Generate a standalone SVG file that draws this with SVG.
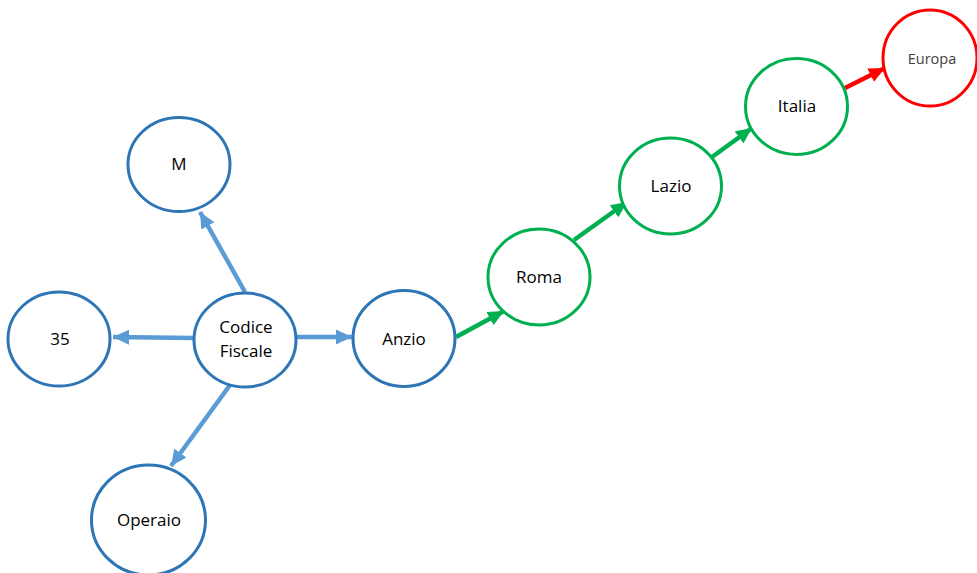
<svg xmlns="http://www.w3.org/2000/svg" width="977" height="573" viewBox="0 0 977 573">
  <defs>
    <marker id="ahBlue" markerUnits="userSpaceOnUse" markerWidth="17" markerHeight="15" refX="16" refY="7.5" orient="auto">
      <path d="M0,0 L16,7.5 L0,15 z" fill="#5b9bd5"/>
    </marker>
    <marker id="ahGreen" markerUnits="userSpaceOnUse" markerWidth="17" markerHeight="15" refX="16" refY="7.5" orient="auto">
      <path d="M0,0 L16,7.5 L0,15 z" fill="#00b050"/>
    </marker>
    <marker id="ahRed" markerUnits="userSpaceOnUse" markerWidth="17" markerHeight="15" refX="16" refY="7.5" orient="auto">
      <path d="M0,0 L16,7.5 L0,15 z" fill="#ff0000"/>
    </marker>
  </defs>
  <style>
    .node { fill: #ffffff; stroke-width: 3; }
    .blue { stroke: #2e75b6; }
    .green { stroke: #00b050; }
    .red { stroke: #ff0000; }
    .label { font-family: "Open Sans", "Liberation Sans", sans-serif; font-size: 17px; fill: #000000; text-anchor: middle; }
    .small { font-size: 14.5px; fill: #404040; }
    .edge { fill: none; stroke-width: 4.5; }
    .eb { stroke: #5b9bd5; marker-end: url(#ahBlue); }
    .eg { stroke: #00b050; marker-end: url(#ahGreen); }
    .er { stroke: #ff0000; marker-end: url(#ahRed); }
  </style>
  <rect width="977" height="573" fill="#ffffff"/>

  <g id="connectors">
    <line class="edge eb" x1="245" y1="292" x2="200" y2="212"/>
    <line class="edge eb" x1="194" y1="338" x2="113" y2="337"/>
    <line class="edge eb" x1="296" y1="337" x2="352" y2="337"/>
    <line class="edge eb" x1="230" y1="385" x2="171" y2="466"/>
    <line class="edge eg" x1="456" y1="337" x2="504" y2="311"/>
    <line class="edge eg" x1="574" y1="240" x2="627" y2="202"/>
    <line class="edge eg" x1="712" y1="157" x2="752" y2="128"/>
    <line class="edge er" x1="845" y1="88" x2="885" y2="68"/>
  </g>

  <g id="node-m">
    <ellipse class="node blue" cx="179" cy="164.5" rx="51" ry="47"/>
    <text class="label" x="179" y="170">M</text>
  </g>
  <g id="node-35">
    <ellipse class="node blue" cx="59" cy="339" rx="51" ry="47"/>
    <text class="label" x="60" y="345">35</text>
  </g>
  <g id="node-codice-fiscale">
    <ellipse class="node blue" cx="245" cy="340" rx="51" ry="47"/>
    <text class="label" x="246" y="333">Codice</text>
    <text class="label" x="246" y="357">Fiscale</text>
  </g>
  <g id="node-operaio">
    <ellipse class="node blue" cx="148.5" cy="520" rx="57" ry="55"/>
    <text class="label" x="149" y="526">Operaio</text>
  </g>
  <g id="node-anzio">
    <ellipse class="node blue" cx="404" cy="338.5" rx="51" ry="48"/>
    <text class="label" x="404" y="345">Anzio</text>
  </g>
  <g id="node-roma">
    <ellipse class="node green" cx="539" cy="277" rx="51" ry="48"/>
    <text class="label" x="539" y="283">Roma</text>
  </g>
  <g id="node-lazio">
    <ellipse class="node green" cx="670.5" cy="186" rx="51" ry="48"/>
    <text class="label" x="671" y="192">Lazio</text>
  </g>
  <g id="node-italia">
    <ellipse class="node green" cx="796.5" cy="106.5" rx="51" ry="48"/>
    <text class="label" x="797" y="112">Italia</text>
  </g>
  <g id="node-europa">
    <ellipse class="node red" cx="930" cy="58" rx="47" ry="48"/>
    <text class="label small" x="932" y="64">Europa</text>
  </g>
</svg>
